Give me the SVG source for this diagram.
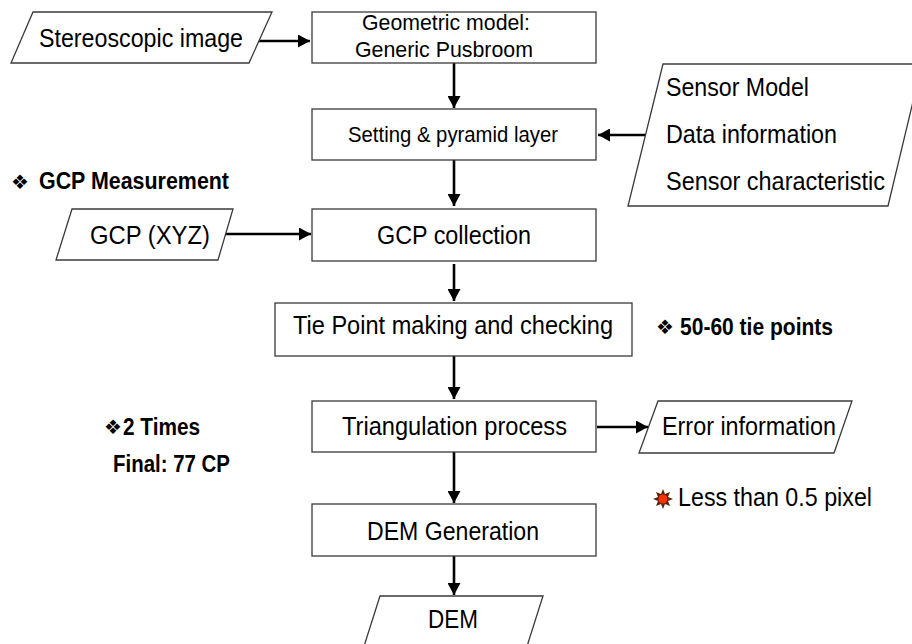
<svg xmlns="http://www.w3.org/2000/svg" width="912" height="644" viewBox="0 0 912 644">
<defs>
<style>
.box{fill:#fff;stroke:#3a3a3a;stroke-width:1.3}
.t{font-family:"Liberation Sans",Arial,sans-serif;fill:#000}
.b{font-family:"Liberation Sans",Arial,sans-serif;font-weight:bold;fill:#000}
.bul{font-family:"DejaVu Sans",sans-serif;fill:#000}
.con{stroke:#000;stroke-width:2.6;fill:none;marker-end:url(#ah)}
</style>
<marker id="ah" markerUnits="userSpaceOnUse" markerWidth="13" markerHeight="13" refX="12" refY="6.5" orient="auto">
<path d="M0,0 L12,6.5 L0,13 z" fill="#000"/>
</marker>
</defs>
<rect width="912" height="644" fill="#fff"/>

<g id="connectors">
<line class="con" x1="258" y1="41" x2="310" y2="41"/>
<line class="con" x1="454" y1="63" x2="454" y2="108"/>
<line class="con" x1="648" y1="135" x2="598" y2="135"/>
<line class="con" x1="454" y1="160" x2="454" y2="206"/>
<line class="con" x1="225" y1="234" x2="311" y2="234"/>
<line class="con" x1="454" y1="264" x2="454" y2="301"/>
<line class="con" x1="454" y1="356" x2="454" y2="399"/>
<line class="con" x1="454" y1="449" x2="454" y2="503"/>
<line class="con" x1="597" y1="427" x2="648" y2="427"/>
<line class="con" x1="454" y1="556" x2="454" y2="595"/>
</g>

<g id="stereo">
<polygon class="box" points="33,12 272,12 249,63 11,63"/>
<text class="t" x="39" y="47" font-size="26" textLength="204" lengthAdjust="spacingAndGlyphs">Stereoscopic image</text>
</g>

<g id="geometric">
<rect class="box" x="312" y="12" width="284" height="51"/>
<text class="t" x="362" y="30" font-size="22" textLength="168" lengthAdjust="spacingAndGlyphs">Geometric model:</text>
<text class="t" x="355" y="57" font-size="22" textLength="178" lengthAdjust="spacingAndGlyphs">Generic Pusbroom</text>
</g>

<g id="setting">
<rect class="box" x="312" y="109" width="284" height="51"/>
<text class="t" x="348" y="142" font-size="21.5" textLength="210" lengthAdjust="spacingAndGlyphs">Setting &amp; pyramid layer</text>
</g>

<g id="sensor">
<polygon class="box" points="663,64 922,64 888,206 628,206"/>
<text class="t" x="666" y="96" font-size="25" textLength="143" lengthAdjust="spacingAndGlyphs">Sensor Model</text>
<text class="t" x="666" y="143" font-size="25" textLength="171" lengthAdjust="spacingAndGlyphs">Data information</text>
<text class="t" x="666" y="190" font-size="25" textLength="219" lengthAdjust="spacingAndGlyphs">Sensor characteristic</text>
</g>

<g id="note-gcp">
<text class="bul" x="11" y="189" font-size="20">❖</text>
<text class="b" x="39" y="189" font-size="23" textLength="190" lengthAdjust="spacingAndGlyphs">GCP Measurement</text>
</g>

<g id="gcpxyz">
<polygon class="box" points="72,209 233,209 218,260 56,260"/>
<text class="t" x="90" y="244" font-size="26" textLength="120" lengthAdjust="spacingAndGlyphs">GCP (XYZ)</text>
</g>

<g id="gcpcollection">
<rect class="box" x="312" y="209" width="284" height="52"/>
<text class="t" x="377" y="244" font-size="26" textLength="154" lengthAdjust="spacingAndGlyphs">GCP collection</text>
</g>

<g id="tiepoint">
<rect class="box" x="275" y="303" width="357" height="53"/>
<text class="t" x="293" y="334" font-size="26" textLength="320" lengthAdjust="spacingAndGlyphs">Tie Point making and checking</text>
</g>

<g id="note-tie">
<text class="bul" x="656" y="334" font-size="20">❖</text>
<text class="b" x="680" y="335" font-size="23" textLength="153" lengthAdjust="spacingAndGlyphs">50-60 tie points</text>
</g>

<g id="note-times">
<text class="bul" x="104" y="434" font-size="20">❖</text>
<text class="b" x="123" y="435" font-size="23" textLength="77" lengthAdjust="spacingAndGlyphs">2 Times</text>
<text class="b" x="113" y="472" font-size="23" textLength="117" lengthAdjust="spacingAndGlyphs">Final: 77 CP</text>
</g>

<g id="triangulation">
<rect class="box" x="312" y="401" width="284" height="51"/>
<text class="t" x="342" y="435" font-size="26" textLength="225" lengthAdjust="spacingAndGlyphs">Triangulation process</text>
</g>

<g id="error">
<polygon class="box" points="658,401 852,401 834,453 639,453"/>
<text class="t" x="662" y="435" font-size="26" textLength="174" lengthAdjust="spacingAndGlyphs">Error information</text>
</g>

<g id="note-pixel">
<polygon fill="#5a2410" points="663,489 665,494 670,492 668,497 673,499 668,501 670,506 665,504 663,509 661,504 656,506 658,501 653,499 658,497 656,492 661,494"/>
<circle cx="663" cy="499" r="4.5" fill="#ff3300"/>
<text class="t" x="678" y="506" font-size="26" textLength="194" lengthAdjust="spacingAndGlyphs">Less than 0.5 pixel</text>
</g>

<g id="demgeneration">
<rect class="box" x="312" y="504" width="284" height="52"/>
<text class="t" x="367" y="540" font-size="26" textLength="172" lengthAdjust="spacingAndGlyphs">DEM Generation</text>
</g>

<g id="dem">
<polygon class="box" points="380,596 543,596 522,662 359,662"/>
<text class="t" x="428" y="628" font-size="26" textLength="50" lengthAdjust="spacingAndGlyphs">DEM</text>
</g>
</svg>
